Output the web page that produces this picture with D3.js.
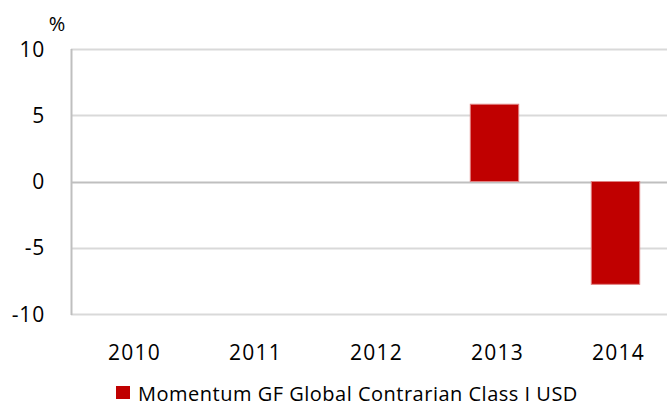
<!DOCTYPE html>
<html>
<head>
<meta charset="utf-8">
<script src="https://cdn.jsdelivr.net/npm/d3@7"></script>
<style>
  body { margin: 0; background: #fff; }
  text { font-family: "Open Sans", Lato, sans-serif; fill: #000; }
</style>
</head>
<body>
<div id="chart"></div>
<script>
// data
const years = ['2010', '2011', '2012', '2013', '2014'];
const returns = [null, null, null, 5.83, -7.76];
const yTicks = [-10, -5, 0, 5, 10];
const seriesName = 'Momentum GF Global Contrarian Class I USD';

const width = 667;
const height = 407;
const margin = {top: 49, right: -9, bottom: 93, left: 71};

const svg = d3.select('#chart')
  .append('svg')
  .attr('width', width)
  .attr('height', height);

const x = d3.scaleBand()
  .domain(years)
  .range([margin.left, width - margin.right])
  .paddingInner(0.6)
  .paddingOuter(0.3);

const y = d3.scaleLinear()
  .domain([-10, 10])
  .range([height - margin.bottom, margin.top]);

// gridlines
svg.append('g')
  .selectAll('line')
  .data(yTicks)
  .enter().append('line')
  .attr('x1', margin.left)
  .attr('x2', width)
  .attr('y1', d => Math.round(y(d)) + 0.5)
  .attr('y2', d => Math.round(y(d)) + 0.5)
  .attr('stroke', d => d === 0 ? '#bfbfbf' : '#d9d9d9')
  .attr('stroke-width', 2);

// y axis line
svg.append('line')
  .attr('x1', margin.left + 0.5)
  .attr('x2', margin.left + 0.5)
  .attr('y1', y(10))
  .attr('y2', y(-10) + 1)
  .attr('stroke', '#bfbfbf')
  .attr('stroke-width', 2);

// y tick labels
svg.append('g')
  .selectAll('text')
  .data(yTicks)
  .enter().append('text')
  .attr('x', 45)
  .attr('y', d => y(d))
  .attr('dy', '0.36em')
  .attr('text-anchor', 'end')
  .style('font-size', '21px')
  .style('letter-spacing', '0.8px')
  .text(d => d);

svg.append('text')
  .attr('x', 57)
  .attr('y', 31)
  .attr('text-anchor', 'middle')
  .style('font-size', '20px')
  .text('%');

// bars
svg.append('g')
  .selectAll('rect')
  .data(years.map((yr, i) => ({yr, v: returns[i]})).filter(d => d.v !== null))
  .enter().append('rect')
  .attr('x', d => x(d.yr))
  .attr('y', d => y(Math.max(0, d.v)))
  .attr('width', x.bandwidth())
  .attr('height', d => Math.abs(y(d.v) - y(0)))
  .attr('fill', '#c00000')
  .attr('stroke', '#e08080')
  .attr('stroke-width', 1);

// x labels
svg.append('g')
  .selectAll('text')
  .data(years)
  .enter().append('text')
  .attr('x', d => x(d) + x.bandwidth() / 2 + 3)
  .attr('y', 360)
  .attr('text-anchor', 'middle')
  .style('font-size', '21px')
  .style('letter-spacing', '1.2px')
  .text(d => d);

// legend
svg.append('rect')
  .attr('x', 116)
  .attr('y', 386)
  .attr('width', 14)
  .attr('height', 13)
  .attr('fill', '#c00000');

svg.append('text')
  .attr('x', 138)
  .attr('y', 401)
  .style('font-size', '20px')
  .style('letter-spacing', '0.5px')
  .text(seriesName);
</script>
</body>
</html>
